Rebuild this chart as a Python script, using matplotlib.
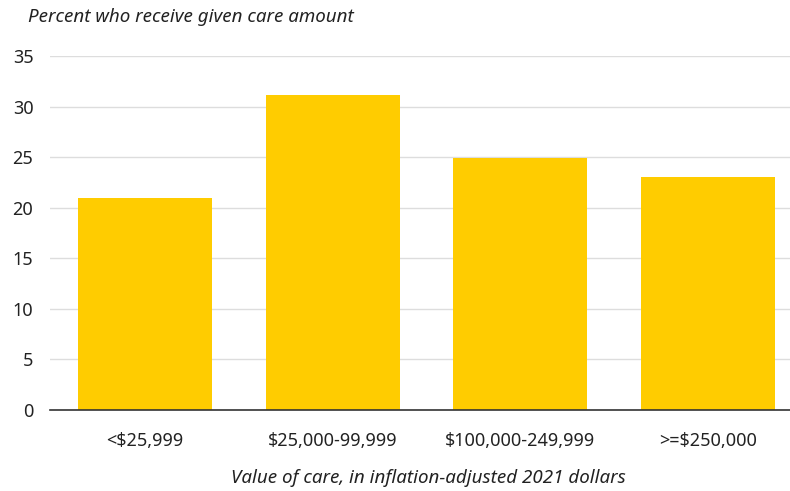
import matplotlib
matplotlib.use("Agg")
import matplotlib.pyplot as plt

categories = ["<$25,999", "$25,000-99,999", "$100,000-249,999", ">=$250,000"]
values = [21.0, 31.1, 24.9, 23.0]
yticks = [0, 5, 10, 15, 20, 25, 30, 35]

plt.rcParams['font.family'] = ['Noto Sans', 'DejaVu Sans']

fig = plt.figure(figsize=(7.9, 4.91), dpi=100)
W, H = 790, 491
ax = fig.add_axes([50 / W, 1 - 410 / H, 740 / W, (410 - 56) / H])

x = list(range(len(categories)))
ax.bar(x, values, width=0.715, color="#FFCC00", zorder=2)
ax.set_xlim(-0.506, 3.437)
ax.set_ylim(0, 35)
ax.set_yticks(yticks)
ax.set_yticklabels([str(t) for t in yticks], fontsize=13, color="#222222")
ax.set_xticks(x)
ax.set_xticklabels(categories, fontsize=13, color="#222222")
ax.grid(axis="y", color="#dddddd", linewidth=1, zorder=0)
for s in ["top", "right", "left"]:
    ax.spines[s].set_visible(False)
ax.spines["bottom"].set_color("#333333")
ax.spines["bottom"].set_linewidth(1.2)
ax.tick_params(axis="both", length=0)
ax.tick_params(axis="y", pad=12)
ax.tick_params(axis="x", pad=16)

fig.text(28 / W, 1 - 17 / H, "Percent who receive given care amount", fontsize=13.5,
         style="italic", color="#222222", ha="left", va="center")
fig.text(428 / W, 1 - 478 / H, "Value of care, in inflation-adjusted 2021 dollars", fontsize=13.5,
         style="italic", color="#222222", ha="center", va="center")

fig.savefig("out.png", dpi=100)
